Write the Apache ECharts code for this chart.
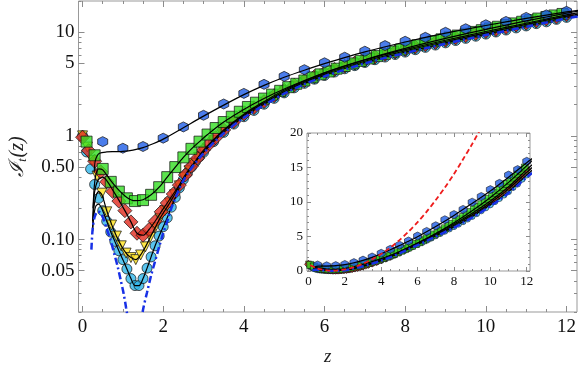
<!DOCTYPE html>
<html>
<head>
<meta charset="utf-8">
<script src="https://cdn.jsdelivr.net/npm/echarts@6/dist/echarts.min.js"></script>
<style>
  html, body { margin: 0; padding: 0; background: #fff; }
  #chart { width: 581px; height: 372px; }
</style>
</head>
<body>
<div id="chart"></div>
<script>
// ---- data: [z, I_t(z)] ----
const hexagons = [[0.5,0.88],[1,0.76],[1.5,0.79],[2,0.95],[2.5,1.22],[3,1.58],[3.5,2.03],[4,2.57],[4.5,3.14],[5,3.75],[5.5,4.35],[6,5.07],[6.5,5.74],[7,6.56],[7.5,7.43],[8,8.18],[8.5,8.93],[9,9.98],[9.5,10.8],[10,11.8],[10.5,12.7],[11,13.9],[11.5,14.7],[12,15.9]]

const squares = [[0.1,0.88],[0.3,0.65],[0.5,0.48],[0.7,0.36],[0.9,0.29],[1.1,0.25],[1.3,0.235],[1.5,0.24],[1.7,0.27],[1.9,0.32],[2.1,0.40],[2.3,0.50],[2.5,0.62],[2.7,0.75],[2.9,0.88],[3.1,1.03],[3.3,1.19],[3.5,1.36],[3.7,1.53],[3.9,1.71],[4.1,1.9],[4.3,2.09],[4.5,2.29],[4.7,2.5],[4.9,2.72],[5.1,2.95],[5.3,3.18],[5.5,3.42],[5.7,3.67],[5.9,3.92],[6.1,4.18],[6.3,4.45],[6.5,4.72],[6.7,5.0],[6.9,5.29],[7.1,5.58],[7.3,5.88],[7.5,6.19],[7.7,6.5],[7.9,6.82],[8.1,7.15],[8.3,7.49],[8.5,7.83],[8.7,8.18],[8.9,8.54],[9.1,8.91],[9.3,9.29],[9.5,9.67],[9.7,10.06],[9.9,10.46],[10.1,10.87],[10.3,11.29],[10.5,11.72],[10.7,12.16],[10.9,12.61],[11.1,13.07],[11.3,13.54],[11.5,14.02],[11.7,14.51],[11.9,15.0]]

const diamonds = [[0,0.97],[0.15,0.72],[0.3,0.57],[0.45,0.45],[0.6,0.36],[0.75,0.29],[0.9,0.235],[1.05,0.19],[1.2,0.148],[1.35,0.115],[1.5,0.11],[1.65,0.125],[1.8,0.15],[1.95,0.185],[2.1,0.225],[2.25,0.275],[2.4,0.335],[2.55,0.42],[2.7,0.51],[2.85,0.61],[3,0.73],[3.15,0.84],[3.3,0.96],[3.5,1.14],[3.75,1.37],[4,1.62],[4.25,1.87],[4.5,2.14],[4.75,2.44],[5,2.75],[5.25,3.08],[5.5,3.4],[5.75,3.73],[6,4.05],[6.25,4.37],[6.5,4.7],[6.75,5.04],[7,5.4],[7.25,5.75],[7.5,6.1],[7.75,6.45],[8,6.8],[8.25,7.18],[8.5,7.56],[8.75,7.96],[9,8.37],[9.25,8.8],[9.5,9.23],[9.75,9.69],[10,10.15],[10.25,10.6],[10.5,11.1],[10.75,11.7],[11,12.2],[11.25,12.8],[11.5,13.4],[11.75,14.0],[12,14.7]]

const triangles = [[0,1.0],[0.12,0.78],[0.24,0.58],[0.36,0.41],[0.48,0.28],[0.6,0.185],[0.72,0.138],[0.84,0.108],[0.96,0.087],[1.08,0.074],[1.2,0.067],[1.32,0.064],[1.44,0.071],[1.56,0.085],[1.68,0.105],[1.8,0.13],[1.92,0.16],[2.04,0.19],[2.16,0.225],[2.28,0.27],[2.4,0.33],[2.52,0.4],[2.64,0.46],[2.76,0.54],[2.88,0.62],[3,0.71],[3.25,0.9],[3.5,1.11],[3.75,1.33],[4,1.58],[4.25,1.82],[4.5,2.08],[4.75,2.37],[5,2.68],[5.25,2.99],[5.5,3.31],[5.75,3.62],[6,3.94],[6.25,4.25],[6.5,4.57],[6.75,4.9],[7,5.25],[7.25,5.59],[7.5,5.93],[7.75,6.27],[8,6.62],[8.25,6.98],[8.5,7.35],[8.75,7.74],[9,8.14],[9.25,8.56],[9.5,8.98],[9.75,9.42],[10,9.87],[10.25,10.3],[10.5,10.8],[10.75,11.3],[11,11.9],[11.25,12.4],[11.5,13.0],[11.75,13.7],[12,14.3]]

const circles = [[0,1.0],[0.1,0.7],[0.2,0.48],[0.3,0.34],[0.4,0.25],[0.5,0.19],[0.6,0.15],[0.7,0.118],[0.8,0.096],[0.9,0.078],[1,0.064],[1.1,0.052],[1.2,0.042],[1.3,0.036],[1.4,0.036],[1.5,0.042],[1.6,0.053],[1.7,0.068],[1.8,0.087],[1.9,0.108],[2,0.133],[2.1,0.162],[2.2,0.205],[2.3,0.255],[2.4,0.315],[2.5,0.38],[2.6,0.44],[2.7,0.5],[2.8,0.565],[2.9,0.63],[3,0.695],[3.25,0.88],[3.5,1.08],[3.75,1.3],[4,1.53],[4.25,1.76],[4.5,2.02],[4.75,2.3],[5,2.6],[5.25,2.91],[5.5,3.21],[5.75,3.52],[6,3.83],[6.25,4.13],[6.5,4.44],[6.75,4.76],[7,5.1],[7.25,5.43],[7.5,5.76],[7.75,6.09],[8,6.43],[8.25,6.78],[8.5,7.14],[8.75,7.52],[9,7.9],[9.25,8.31],[9.5,8.72],[9.75,9.15],[10,9.59],[10.25,10.05],[10.5,10.5],[10.75,11.0],[11,11.5],[11.25,12.1],[11.5,12.6],[11.75,13.3],[12,13.9]]

// black theory curves, one per marker set
const curveHex = [[0.29,0.45],[0.31,0.56],[0.35,0.63],[0.42,0.68],[0.6,0.7],[0.8,0.705],[1,0.71],[1.25,0.73],[1.5,0.77],[1.75,0.84],[2,0.93],[2.5,1.2],[3,1.55],[3.5,1.98],[4,2.5],[4.5,3.07],[5,3.68],[5.5,4.3],[6,4.97],[7,6.45],[8,8.05],[9,9.8],[10,11.6],[11,13.6],[12,15.7],[12.3,16.3]]
const curveSq = [[0.26,0.2],[0.29,0.32],[0.33,0.42],[0.4,0.48],[0.5,0.47],[0.7,0.37],[0.9,0.3],[1.1,0.255],[1.3,0.237],[1.5,0.242],[1.7,0.27],[1.9,0.32],[2.1,0.4],[2.3,0.5],[2.5,0.62],[2.7,0.75],[2.9,0.88],[3.1,1.03],[3.5,1.36],[4,1.8],[4.5,2.29],[5,2.83],[6,4.05],[7,5.43],[8,6.98],[9,8.72],[10,10.66],[11,12.84],[12,15.25],[12.3,16.0]]
const curveDia = [[0.25,0.15],[0.28,0.25],[0.33,0.33],[0.4,0.38],[0.5,0.4],[0.6,0.37],[0.75,0.3],[0.9,0.24],[1.05,0.19],[1.2,0.148],[1.35,0.115],[1.5,0.11],[1.65,0.125],[1.8,0.15],[1.95,0.185],[2.1,0.225],[2.25,0.275],[2.4,0.335],[2.55,0.42],[2.7,0.51],[2.85,0.61],[3,0.73],[3.5,1.14],[4,1.62],[4.5,2.14],[5,2.75],[6,4.05],[7,5.4],[8,6.8],[9,8.37],[10,10.15],[11,12.2],[12,14.7],[12.3,15.4]]
const curveTri = [[0.25,0.13],[0.28,0.2],[0.33,0.26],[0.4,0.29],[0.48,0.27],[0.6,0.19],[0.72,0.14],[0.84,0.108],[0.96,0.087],[1.08,0.074],[1.2,0.067],[1.32,0.064],[1.44,0.071],[1.56,0.085],[1.68,0.105],[1.8,0.13],[1.92,0.16],[2.04,0.19],[2.16,0.225],[2.28,0.27],[2.4,0.33],[2.52,0.4],[2.76,0.54],[3,0.71],[3.5,1.11],[4,1.58],[4.5,2.08],[5,2.68],[6,3.94],[7,5.25],[8,6.62],[9,8.14],[10,9.87],[11,11.9],[12,14.3],[12.3,15.0]]
const curveCirc = [[0.25,0.12],[0.28,0.17],[0.33,0.21],[0.4,0.22],[0.5,0.19],[0.6,0.15],[0.7,0.118],[0.8,0.096],[0.9,0.078],[1,0.064],[1.1,0.052],[1.2,0.042],[1.3,0.036],[1.4,0.036],[1.5,0.042],[1.6,0.053],[1.7,0.068],[1.8,0.087],[1.9,0.108],[2,0.133],[2.1,0.162],[2.2,0.205],[2.3,0.255],[2.4,0.315],[2.5,0.38],[2.7,0.5],[3,0.695],[3.5,1.08],[4,1.53],[4.5,2.02],[5,2.6],[6,3.83],[7,5.1],[8,6.43],[9,7.9],[10,9.59],[11,11.5],[12,13.9],[12.3,14.6]]

// blue dash-dot (lowest curve)
const dashDot = [[0.22,0.08],[0.25,0.125],[0.3,0.165],[0.38,0.187],[0.45,0.18],[0.52,0.158],[0.59,0.13],[0.69,0.1],[0.79,0.072],[0.87,0.055],[0.95,0.04],[1.02,0.03],[1.08,0.022],[1.15,0.015],[1.3,0.006],[1.45,0.015],[1.5,0.021],[1.6,0.031],[1.7,0.045],[1.8,0.062],[1.9,0.085],[2,0.115],[2.1,0.15],[2.2,0.2],[2.3,0.25],[2.4,0.31],[2.5,0.37],[2.6,0.43],[2.8,0.55],[3,0.68],[3.25,0.86],[3.5,1.06],[4,1.5],[4.5,1.98],[5,2.55],[5.5,3.15],[6,3.75],[6.5,4.35],[7,5.0],[7.5,5.65],[8,6.3],[8.5,7.0],[9,7.75],[9.5,8.55],[10,9.4],[10.5,10.3],[11,11.3],[11.5,12.4],[12,13.6],[12.3,14.2]]

// red dashed curve, inset only
const redDashed = [[0.1,0.85],[0.5,0.35],[1,0.1],[1.5,0.06],[2,0.23],[2.5,0.57],[3,1.06],[3.5,1.69],[4,2.47],[4.5,3.4],[5,4.48],[5.5,5.7],[6,7.08],[6.5,8.6],[7,10.3],[7.5,12.1],[8,14.05],[8.5,16.2],[9,18.4],[9.5,20.8]]

// tick marks
const xMajor = [0, 2, 4, 6, 8, 10, 12]
const yMajorVals = [0.05, 0.1, 0.5, 1, 5, 10]
const yMajorText = ['0.05', '0.10', '0.50', '1', '5', '10']
const insetYMajor = [0, 5, 10, 15, 20]

const lg = v => Math.log10(v)
const toLog = pts => pts.map(p => [p[0], lg(p[1])])

const xMinor = []
for (let v = 0; v <= 12; v += 0.5) xMinor.push(v)
const yMinor = []
;[0.01, 0.1, 1, 10].forEach(d => {
  for (let k = 1; k <= 9; k++) {
    const v = k * d
    if (v >= 0.02 && v <= 20) yMinor.push(lg(v))
  }
})
const insetYMinor = []
for (let v = 0; v <= 20; v += 1) insetYMinor.push(v)

const serif = '"Liberation Serif", "DejaVu Serif", serif'
const tickColor = '#8c8c8c'

function tickAxis(gridIndex, position, min, max, vals, len, label) {
  return {
    type: 'value',
    gridIndex: gridIndex,
    position: position,
    min: min,
    max: max,
    axisLine: { show: false, onZero: false },
    splitLine: { show: false },
    axisTick: {
      show: true,
      inside: true,
      length: len,
      customValues: vals,
      lineStyle: { color: tickColor, width: 1 }
    },
    axisLabel: label || { show: false }
  }
}

const mainXMin = -0.1, mainXMax = 12.26
const mainYMin = lg(0.02), mainYMax = lg(20)
const insXMin = -0.08, insXMax = 12.18

const xAxes = [
  Object.assign(tickAxis(0, 'bottom', mainXMin, mainXMax, xMajor, 6, {
    show: true, customValues: xMajor, margin: 6,
    color: '#111', fontFamily: serif, fontSize: 19
  }), {
    name: 'z', nameLocation: 'middle', nameGap: 35,
    nameTextStyle: { fontFamily: serif, fontStyle: 'italic', fontSize: 19, color: '#222' }
  }),
  tickAxis(0, 'bottom', mainXMin, mainXMax, xMinor, 3),
  tickAxis(0, 'top', mainXMin, mainXMax, xMajor, 6),
  tickAxis(0, 'top', mainXMin, mainXMax, xMinor, 3),
  tickAxis(1, 'bottom', insXMin, insXMax, xMajor, 4, {
    show: true, customValues: xMajor, margin: 4,
    color: '#111', fontFamily: serif, fontSize: 13
  }),
  tickAxis(1, 'bottom', insXMin, insXMax, xMinor, 2),
  tickAxis(1, 'top', insXMin, insXMax, xMajor, 4),
  tickAxis(1, 'top', insXMin, insXMax, xMinor, 2)
]

const yAxes = [
  Object.assign(tickAxis(0, 'left', mainYMin, mainYMax, yMajorVals.map(lg), 6, {
    show: true, customValues: yMajorVals.map(lg), margin: 4,
    color: '#111', fontFamily: serif, fontSize: 19,
    formatter: v => {
      const i = yMajorVals.findIndex(t => Math.abs(lg(t) - v) < 1e-6)
      return i >= 0 ? yMajorText[i] : ''
    }
  }), {
    name: '{i|ℐ}{s|t}{i|(z)}', nameLocation: 'middle', nameGap: 50,
    nameTextStyle: {
      color: '#222',
      rich: {
        i: { fontFamily: serif, fontStyle: 'italic', fontSize: 20, color: '#222' },
        s: { fontFamily: serif, fontStyle: 'italic', fontSize: 12, color: '#222', padding: [9, 1, 0, 0] }
      }
    }
  }),
  tickAxis(0, 'left', mainYMin, mainYMax, yMinor, 3),
  tickAxis(0, 'right', mainYMin, mainYMax, yMajorVals.map(lg), 6),
  tickAxis(0, 'right', mainYMin, mainYMax, yMinor, 3),
  tickAxis(1, 'left', 0, 20, insetYMajor, 4, {
    show: true, customValues: insetYMajor, margin: 4,
    color: '#111', fontFamily: serif, fontSize: 13
  }),
  tickAxis(1, 'left', 0, 20, insetYMinor, 2),
  tickAxis(1, 'right', 0, 20, insetYMajor, 4),
  tickAxis(1, 'right', 0, 20, insetYMinor, 2)
]

const hexPath = 'path://M0,-10 L8.66,-5 L8.66,5 L0,10 L-8.66,5 L-8.66,-5 Z'

const markerSets = [
  { data: circles, symbol: 'circle', color: '#2eb5ea', size: 10, inset: 6, rot: 0 },
  { data: triangles, symbol: 'triangle', color: '#ffe21a', size: 10, inset: 6, rot: 180 },
  { data: diamonds, symbol: 'diamond', color: '#e02b1e', size: 14, inset: 8, rot: 0 },
  { data: squares, symbol: 'rect', color: '#33dd22', size: 11, inset: 7, rot: 0 },
  { data: hexagons, symbol: hexPath, color: '#1e5ce6', size: 10, inset: 8, rot: 0 }
]
const curves = [curveCirc, curveTri, curveDia, curveSq, curveHex]

const series = []
;[0, 1].forEach(g => {
  const conv = g === 0 ? toLog : (p => p)
  markerSets.forEach((m, i) => {
    series.push({
      type: 'scatter',
      xAxisIndex: g === 0 ? 0 : 4,
      yAxisIndex: g === 0 ? 0 : 4,
      data: conv(m.data),
      symbol: m.symbol,
      symbolSize: g === 0 ? m.size : m.inset,
      symbolRotate: m.rot,
      itemStyle: { color: m.color, borderColor: '#111', borderWidth: g === 0 ? 0.9 : 0.7 },
      z: 3 + i,
      silent: true
    })
  })
  curves.forEach(c => {
    series.push({
      type: 'line',
      xAxisIndex: g === 0 ? 0 : 4,
      yAxisIndex: g === 0 ? 0 : 4,
      data: conv(c),
      smooth: 0.3,
      symbol: 'none',
      lineStyle: { color: '#000', width: 1.2 },
      z: 10
    })
  })
  series.push({
    type: 'line',
    xAxisIndex: g === 0 ? 0 : 4,
    yAxisIndex: g === 0 ? 0 : 4,
    data: conv(dashDot),
    smooth: 0.3,
    symbol: 'none',
    lineStyle: { color: '#1730e6', width: 2.5, type: [7, 3, 2, 3] },
    z: 11
  })
})
series.push({
  type: 'line',
  xAxisIndex: 4,
  yAxisIndex: 4,
  data: redDashed,
  smooth: 0.3,
  symbol: 'none',
  lineStyle: { color: '#ee1c1c', width: 1.8, type: [5, 3] },
  z: 12
})

const chart = echarts.init(document.getElementById('chart'))
chart.setOption({
  animation: false,
  backgroundColor: '#fff',
  grid: [
    { left: 72, top: 1, right: 4, bottom: 60, show: true, borderColor: '#999', borderWidth: 1 },
    { left: 307, top: 133, width: 223, height: 138, show: true, backgroundColor: '#fff', borderColor: '#999', borderWidth: 1 }
  ],
  xAxis: xAxes,
  yAxis: yAxes,
  series: series
})
</script>
</body>
</html>
